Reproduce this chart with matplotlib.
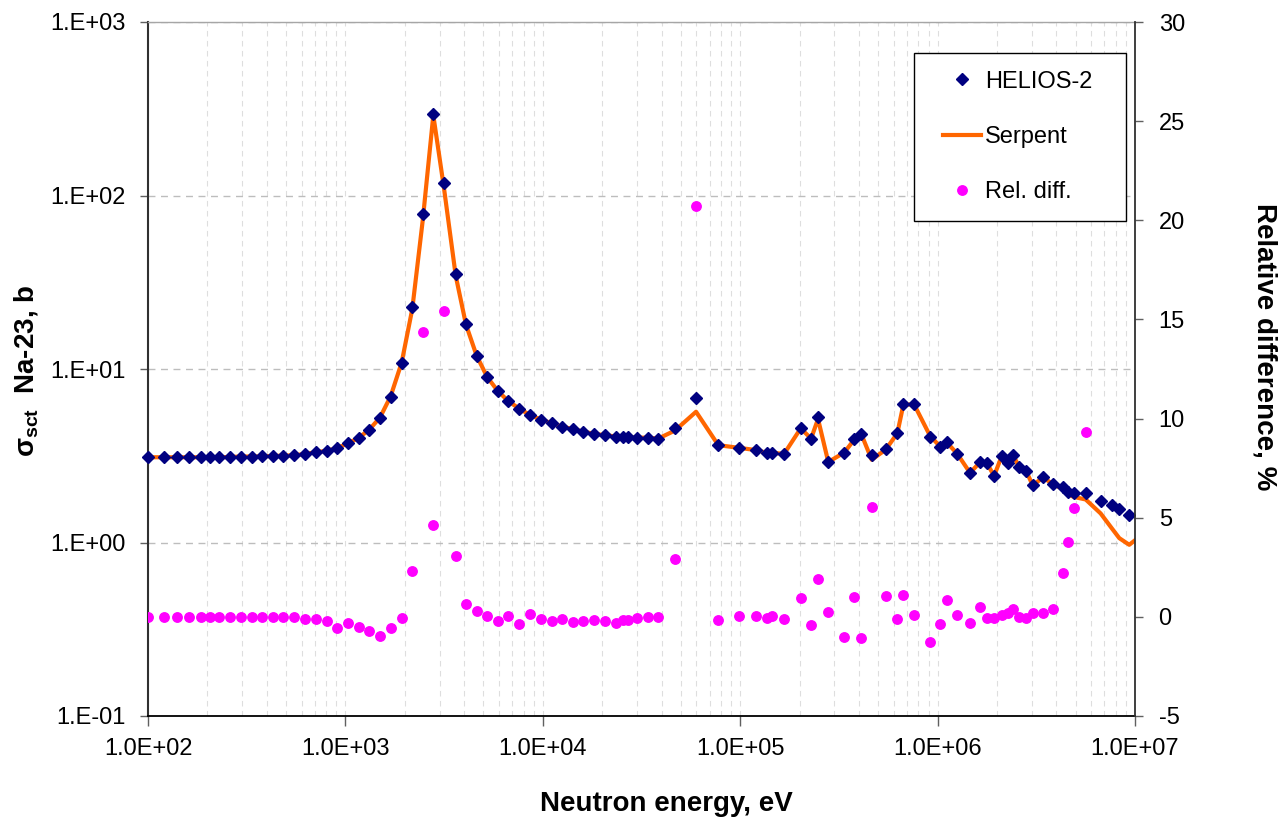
import matplotlib
matplotlib.use('Agg')
import matplotlib.pyplot as plt
from matplotlib.ticker import LogLocator, FuncFormatter, MultipleLocator, NullLocator
from matplotlib.legend_handler import HandlerLine2D
from matplotlib.lines import Line2D
import numpy as np

plt.rcParams['font.family'] = 'Liberation Sans'
plt.rcParams['mathtext.default'] = 'regular'
plt.rcParams['axes.unicode_minus'] = False

# Energy grid of the HELIOS-2 points, eV
energy = [
    100, 121, 141, 162, 185, 206, 230, 260, 296, 335,
    379, 428, 485, 549, 622, 708, 804, 910, 1035, 1168,
    1323, 1497, 1695, 1928, 2182, 2465, 2788, 3159, 3624, 4083,
    4625, 5235, 5911, 6686, 7598, 8642, 9798, 11100, 12560, 14170,
    16030, 18160, 20640, 23480, 25400, 26920, 30120, 33990, 38450, 46730,
    59760, 77430, 98900, 120200, 136100, 145500, 166800, 202600, 228600, 247900,
    279400, 336600, 378400, 409200, 463600, 545700, 625200, 670400, 759100, 915400,
    1028000, 1112000, 1259000, 1460000, 1640000, 1774000, 1932000, 2114000, 2282000, 2418000,
    2592000, 2804000, 3032000, 3430000, 3855000, 4303000, 4593000, 4910000, 5626000, 6700000,
    7619000, 8323000, 9350000]

# Na-23 scattering cross section, b
helios = [
    3.10, 3.10, 3.10, 3.10, 3.10, 3.10, 3.10, 3.11, 3.13, 3.13,
    3.14, 3.15, 3.17, 3.18, 3.24, 3.31, 3.38, 3.49, 3.73, 3.99,
    4.45, 5.20, 6.92, 10.9, 22.7, 78.0, 294.0, 118.0, 35.3, 18.1,
    11.9, 8.98, 7.46, 6.53, 5.89, 5.43, 5.11, 4.86, 4.65, 4.49,
    4.35, 4.22, 4.15, 4.07, 4.04, 4.04, 4.02, 4.02, 3.97, 4.55,
    6.81, 3.63, 3.51, 3.41, 3.29, 3.29, 3.24, 4.59, 3.95, 5.27,
    2.92, 3.27, 3.96, 4.21, 3.19, 3.47, 4.26, 6.28, 6.28, 4.07,
    3.57, 3.81, 3.24, 2.51, 2.92, 2.88, 2.42, 3.15, 2.86, 3.19,
    2.71, 2.59, 2.14, 2.37, 2.17, 2.08, 1.96, 1.92, 1.92, 1.74,
    1.65, 1.57, 1.45]

serpent_energy = energy + [1.0e7]
serpent = [
    3.10, 3.10, 3.10, 3.10, 3.10, 3.10, 3.10, 3.11, 3.13, 3.13,
    3.14, 3.15, 3.17, 3.18, 3.24, 3.31, 3.38, 3.50, 3.74, 4.01,
    4.48, 5.25, 6.96, 10.9, 22.2, 72.0, 290.0, 110.0, 34.3, 18.0,
    11.9, 8.97, 7.48, 6.53, 5.91, 5.42, 5.11, 4.87, 4.66, 4.50,
    4.36, 4.23, 4.16, 4.08, 4.05, 4.05, 4.02, 4.02, 3.97, 4.42,
    5.67, 3.64, 3.51, 3.41, 3.29, 3.29, 3.24, 4.55, 3.97, 5.15,
    2.91, 3.30, 3.92, 4.26, 3.00, 3.43, 4.26, 6.21, 6.27, 4.12,
    3.58, 3.78, 3.24, 2.52, 2.90, 2.88, 2.42, 3.15, 2.85, 3.18,
    2.71, 2.59, 2.14, 2.37, 2.16, 2.04, 1.89, 1.83, 1.77, 1.47,
    1.21, 1.06, 0.97, 1.03]

# Relative difference, % (no value for the last four groups)
nan = np.nan
rel_diff = [
    0.0, 0.0, 0.0, 0.0, 0.0, 0.0, 0.0, 0.0, 0.0, 0.0,
    0.0, 0.0, 0.0, 0.0, -0.09, -0.13, -0.19, -0.55, -0.33, -0.50,
    -0.72, -0.95, -0.58, -0.06, 2.32, 14.35, 4.61, 15.44, 3.05, 0.65,
    0.29, 0.06, -0.22, 0.02, -0.34, 0.13, -0.10, -0.23, -0.13, -0.26,
    -0.23, -0.16, -0.23, -0.33, -0.16, -0.16, -0.08, -0.01, -0.01, 2.93,
    20.7, -0.18, 0.04, 0.04, -0.04, 0.04, -0.09, 0.95, -0.39, 1.89,
    0.24, -1.00, 1.02, -1.07, 5.56, 1.05, -0.09, 1.08, 0.11, -1.27,
    -0.35, 0.83, 0.09, -0.33, 0.51, -0.04, -0.04, 0.08, 0.21, 0.41,
    0.01, -0.06, 0.21, 0.21, 0.41, 2.19, 3.77, 5.51, 9.34, nan,
    nan, nan, nan]

fig = plt.figure(figsize=(12.82, 8.17), dpi=100)
ax = fig.add_axes([148 / 1282, 1 - 716 / 817, 987 / 1282, 694 / 817])
ax2 = ax.twinx()

# Serpent line under the HELIOS-2 diamonds
s_line, = ax.plot(serpent_energy, serpent, color='#ff6600', lw=3, zorder=2)
h_line, = ax.plot(energy, helios, ls='none', marker='D', ms=6.6,
                  color='#000080', mec='#000080', zorder=3, clip_on=False)
r_line, = ax2.plot(energy, rel_diff, ls='none', marker='o', ms=6.8,
                   color='#ff00ff', mec='#ff00ff', zorder=3)

ax.set_xscale('log')
ax.set_yscale('log')
ax.set_xlim(1e2, 1e7)
ax.set_ylim(1e-1, 1e3)
ax2.set_ylim(-5, 30)
ax2.yaxis.set_major_locator(MultipleLocator(5))

ax.xaxis.set_major_locator(LogLocator(base=10, numticks=10))
ax.xaxis.set_minor_locator(LogLocator(base=10, subs=np.arange(2, 10), numticks=50))
ax.yaxis.set_major_locator(LogLocator(base=10, numticks=10))
ax.yaxis.set_minor_locator(NullLocator())
ax.xaxis.set_major_formatter(FuncFormatter(lambda v, p: '1.0E%+03d' % round(np.log10(v))))
ax.yaxis.set_major_formatter(FuncFormatter(lambda v, p: '1.E%+03d' % round(np.log10(v))))

ax.grid(axis='x', which='both', ls=(0, (5, 4)), color='#dedede', lw=0.8)
ax.grid(axis='y', which='major', ls=(0, (5, 4)), color='#bdbdbd', lw=1.0)
ax.set_axisbelow(True)

ax.tick_params(axis='y', which='major', direction='out', length=6, width=1,
               pad=10, labelsize=17, color='#606060')
ax.tick_params(axis='x', which='major', direction='out', length=7, width=1,
               pad=9, labelsize=17, color='#606060')
ax.tick_params(axis='x', which='minor', length=0)
ax2.tick_params(axis='y', direction='out', length=6, width=1, pad=11,
                labelsize=17, color='#606060')

ax.spines['top'].set_color('#a6a6a6')
ax.spines['top'].set_linewidth(1)
ax.spines['right'].set_visible(False)
ax.spines['left'].set_linewidth(1.5)
ax.spines['left'].set_color('#303030')
ax.spines['bottom'].set_linewidth(1.3)
for s in ['top', 'left', 'bottom']:
    ax2.spines[s].set_visible(False)
ax2.spines['right'].set_linewidth(1.3)
ax2.spines['right'].set_color('#303030')

ax.set_xlabel('Neutron energy, eV', fontsize=20, fontweight='bold', va='baseline')
ax.xaxis.set_label_coords(0.525, -0.137)
ax.set_ylabel(r'$\sigma_{sct}$  Na-23, b', fontsize=20, fontweight='bold',
              rotation=90, rotation_mode='default', ha='center', va='center')
ax.yaxis.set_label_coords(-0.1236, 0.497)
ax2.set_ylabel('Relative difference, %', fontsize=20, fontweight='bold',
               rotation=270, rotation_mode='default', ha='center', va='center')
ax2.yaxis.set_label_coords(1.131, 0.532)

leg = ax2.legend([h_line, s_line, r_line], ['HELIOS-2', 'Serpent', 'Rel. diff.'],
                 loc='upper left', bbox_to_anchor=(0.776, 0.6974, 0.2148, 0.2579),
                 mode='expand', borderaxespad=0, fancybox=False, framealpha=1,
                 edgecolor='black', fontsize=17, labelspacing=1.4,
                 handlelength=2.1, handletextpad=0.15, borderpad=0.75, numpoints=1,
                 handler_map={Line2D: HandlerLine2D(xpad=0.5)})
leg.get_frame().set_linewidth(1.0)

fig.savefig('out.png', dpi=100)
